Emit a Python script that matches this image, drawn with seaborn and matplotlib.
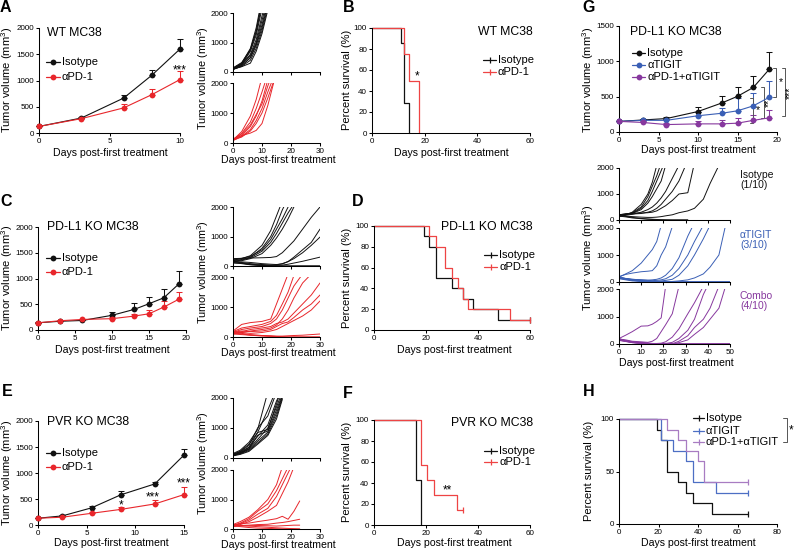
import numpy as np
import pandas as pd
import matplotlib
matplotlib.use("Agg")
import matplotlib.pyplot as plt
from matplotlib.lines import Line2D
import seaborn as sns

W, H = 794, 551

# ---- mean tumor growth ----
A_days = [0, 3, 6, 8, 10]
A_iso_mean = [125, 285, 665, 1100, 1600]
A_iso_sem = [10, 20, 60, 105, 190]
A_pd1_mean = [125, 273, 478, 730, 1018]
A_pd1_sem = [10, 20, 75, 105, 160]

C_days = [0, 3, 6, 10, 13, 15, 17, 19]
C_iso_mean = [140, 170, 185, 285, 400, 510, 625, 890]
C_iso_sem = [10, 12, 15, 65, 120, 130, 180, 260]
C_pd1_mean = [140, 180, 205, 220, 270, 315, 445, 595]
C_pd1_sem = [10, 12, 15, 30, 40, 65, 110, 140]

E_days = [0, 2.5, 5.5, 8.5, 12, 15]
E_iso_mean = [130, 175, 330, 580, 790, 1345]
E_iso_sem = [10, 15, 30, 75, 45, 115]
E_pd1_mean = [130, 150, 225, 300, 405, 585]
E_pd1_sem = [10, 15, 30, 55, 80, 155]

G_days = [0, 3, 6, 10, 13, 15, 17, 19]
G_iso_mean = [150, 170, 190, 290, 410, 505, 630, 885]
G_iso_sem = [10, 15, 20, 70, 95, 125, 165, 250]
G_tig_mean = [150, 165, 165, 230, 265, 300, 370, 490]
G_tig_sem = [10, 15, 20, 50, 80, 175, 180, 235]
G_cmb_mean = [150, 135, 105, 115, 115, 125, 165, 200]
G_cmb_sem = [10, 15, 20, 40, 60, 70, 80, 105]

# ---- individual mice ----
Asp_days = [0, 3, 6, 8, 10, 12, 14]
Asp_iso = [
    [90, 260, 750, 1350, 2300],
    [100, 270, 700, 1250, 2150],
    [120, 300, 800, 1500, 2500],
    [110, 250, 600, 1100, 1900, 2600],
    [130, 280, 560, 1000, 1750, 2500],
    [80, 210, 500, 950, 1600, 2400],
    [100, 220, 480, 900, 1500, 2300],
    [140, 320, 760, 1400, 2400],
    [90, 190, 400, 800, 1400, 2200],
    [100, 180, 300, 700, 1300, 2100],
]
Asp_pd1 = [
    [100, 380, 900, 1450, 2200],
    [120, 320, 700, 1150, 1700, 2300],
    [90, 250, 550, 900, 1400, 2100],
    [110, 300, 600, 950, 1300, 1900, 2400],
    [80, 220, 450, 750, 1150, 1700, 2200],
    [100, 200, 400, 650, 1000, 1500, 2050],
    [130, 250, 330, 420, 650, 1250, 2000],
]

Csp_days = [0, 3, 6, 10, 13, 15, 17, 19, 21, 24, 27, 30]
Csp_iso = [
    [200, 250, 350, 700, 1200, 1700, 2200],
    [180, 220, 300, 600, 1000, 1400, 1900, 2300],
    [220, 260, 330, 550, 900, 1250, 1600, 2000],
    [160, 200, 280, 500, 800, 1100, 1450, 1800, 2100],
    [150, 180, 250, 420, 700, 950, 1250, 1600, 2000],
    [250, 260, 270, 280, 290, 320, 450, 650, 850, 1250, 1650, 2000],
    [130, 140, 120, 80, 60, 50, 70, 150, 300, 550, 800, 1250],
    [100, 90, 60, 30, 20, 40, 80, 150, 250, 450, 700, 980],
    [150, 120, 80, 50, 30, 20, 30, 60, 100, 160, 230, 300],
    [120, 80, 40, 10, 0, 0, 0, 0, 0, 0, 0, 0],
    [180, 100, 50, 20, 5, 0, 0, 0, 0, 0, 0, 0],
]
Csp_pd1 = [
    [200, 420, 480, 520, 600, 1100, 1600, 2100],
    [180, 300, 350, 420, 520, 720, 1100, 1500, 2050],
    [150, 250, 300, 350, 450, 600, 900, 1300, 1700, 2100],
    [100, 150, 200, 250, 300, 400, 600, 900, 1300, 1800, 2100],
    [120, 180, 250, 300, 350, 450, 500, 600, 800, 1100, 1400, 1800],
    [150, 200, 180, 200, 250, 350, 450, 500, 650, 900, 1100, 1400],
    [130, 150, 120, 150, 200, 250, 350, 450, 550, 700, 900, 1200],
    [100, 80, 60, 50, 40, 30, 30, 40, 50, 60, 80, 100],
    [150, 100, 60, 30, 20, 10, 0, 0, 0, 0, 0, 0],
    [200, 120, 80, 50, 30, 20, 10, 0, 0, 0, 0, 0],
]

Esp_days = [0, 2.5, 5.5, 8.5, 12, 15, 17, 19, 21, 23]
Esp_iso = [
    [150, 260, 520, 950, 2200],
    [120, 230, 460, 850, 1600, 2300],
    [100, 210, 420, 1000, 1400, 2200],
    [130, 200, 360, 720, 1100, 1900, 2300],
    [100, 180, 310, 620, 1000, 1700, 2200],
    [80, 150, 300, 760, 900, 1600, 2100],
    [110, 170, 280, 560, 860, 1500, 2050],
    [90, 140, 250, 500, 800, 1400, 2000],
    [100, 160, 350, 850, 950, 1800, 2400],
    [70, 120, 220, 460, 750, 1300, 1950],
]
Esp_pd1 = [
    [150, 250, 400, 650, 1000, 1500, 2100],
    [120, 200, 350, 600, 850, 1300, 1700, 2100],
    [100, 180, 300, 500, 700, 1100, 1500, 1900, 2300],
    [80, 150, 250, 400, 600, 800, 1200, 1600, 2100],
    [130, 180, 200, 250, 300, 350, 430, 330, 600, 950],
    [100, 120, 130, 150, 160, 200, 220, 250, 290, 330],
    [90, 100, 110, 120, 110, 100, 110, 120, 130, 130],
    [150, 120, 100, 80, 60, 40, 30, 20, 10, 0],
    [120, 80, 50, 30, 20, 10, 0, 0, 0, 0],
]

Gsp_days = [0, 3, 6, 10, 13, 15, 17, 19, 21, 24, 27, 31, 34, 38, 41, 45, 48, 50]
Gsp_iso = [
    [150, 200, 300, 600, 1000, 1450, 2100],
    [180, 220, 280, 500, 900, 1300, 1700, 2200],
    [200, 230, 260, 450, 750, 1100, 1500, 1900, 2300],
    [160, 210, 250, 400, 650, 900, 1200, 1500, 2100],
    [140, 180, 220, 300, 400, 500, 650, 850, 1100, 1600, 2100],
    [200, 240, 230, 250, 300, 350, 450, 600, 800, 1100, 1500, 2300],
    [170, 220, 260, 270, 280, 300, 350, 450, 550, 750, 1000, 1050, 2200],
    [170, 150, 130, 110, 100, 100, 110, 130, 160, 200, 280, 350, 450, 800, 1400, 2100],
    [150, 120, 80, 50, 30, 20, 10, 5, 0, 0, 0, 0],
    [180, 140, 100, 60, 40, 30, 20, 10, 5, 0, 0, 0],
]
Gsp_tig = [
    [180, 300, 420, 700, 1000, 1200, 1500, 2100],
    [200, 280, 330, 380, 400, 420, 600, 1000, 1300, 2050],
    [150, 120, 100, 80, 70, 80, 100, 150, 250, 500, 900, 1700, 2200],
    [170, 130, 100, 80, 60, 50, 60, 80, 120, 250, 500, 1000, 1500, 2100],
    [160, 120, 90, 60, 40, 30, 30, 40, 60, 100, 250, 600, 1000, 1600, 2100],
    [140, 110, 80, 50, 30, 20, 10, 10, 10, 20, 40, 80, 150, 300, 550, 1000, 2100],
    [150, 100, 60, 30, 10, 0, 0, 0, 0, 0, 0, 0, 0, 0, 0, 0, 0, 0],
    [200, 130, 80, 40, 20, 10, 0, 0, 0, 0, 0, 0, 0, 0, 0, 0, 0, 0],
    [120, 80, 40, 20, 0, 0, 0, 0, 0, 0, 0, 0, 0, 0, 0, 0, 0, 0],
    [170, 110, 70, 30, 10, 0, 0, 0, 0, 0, 0, 0, 0, 0, 0, 0, 0, 0],
]
Gsp_cmb = [
    [200, 320, 450, 650, 660, 720, 820, 950, 2100],
    [180, 150, 100, 80, 60, 100, 200, 450, 700, 1100, 2100],
    [150, 120, 80, 50, 30, 20, 20, 30, 80, 250, 550, 1100, 1500, 2100],
    [160, 120, 80, 50, 30, 20, 10, 10, 20, 60, 200, 500, 900, 1800, 2300],
    [140, 100, 60, 30, 10, 5, 0, 0, 0, 10, 100, 300, 600, 900, 1300, 2100],
    [170, 120, 70, 40, 20, 10, 0, 0, 0, 0, 50, 150, 350, 600, 900, 1300, 2100],
    [200, 120, 70, 30, 10, 0, 0, 0, 0, 0, 0, 0, 0, 0, 0, 0, 0, 0],
    [150, 100, 50, 20, 0, 0, 0, 0, 0, 0, 0, 0, 0, 0, 0, 0, 0, 0],
    [180, 110, 60, 30, 10, 0, 0, 0, 0, 0, 0, 0, 0, 0, 0, 0, 0, 0],
    [130, 90, 50, 20, 0, 0, 0, 0, 0, 0, 0, 0, 0, 0, 0, 0, 0, 0],
]

# ---- survival (Kaplan-Meier steps) ----
B_iso_t = [0, 11, 12, 14]
B_iso_s = [100, 85.7, 28.6, 0]
B_pd1_t = [0, 12, 14, 18]
B_pd1_s = [100, 75, 50, 0]

D_iso_t = [0, 19.3, 21.2, 23.8, 30, 34.3, 38.2, 47.6, 60]
D_iso_s = [100, 90, 80, 50, 40, 30, 20, 10, 10]
D_pd1_t = [0, 21.2, 23.8, 27.2, 30, 32.4, 34.3, 36.2, 52.3, 60]
D_pd1_s = [100, 90, 80, 60, 50, 40, 30, 20, 10, 10]

F_iso_t = [0, 16, 18]
F_iso_s = [100, 42.9, 0]
F_pd1_t = [0, 18, 20.2, 23.1, 32.1, 34.3]
F_pd1_s = [100, 57.1, 42.9, 28.6, 14.3, 14.3]

H_iso_t = [0, 19.1, 21.1, 24.2, 29.8, 34, 37.7, 47, 65.3]
H_iso_s = [100, 90, 80, 50, 40, 30, 20, 10, 10]
H_tig_t = [0, 21.1, 27.2, 34, 37.7, 49.2, 65.3]
H_tig_s = [100, 80, 70, 60, 40, 30, 30]
H_cmb_t = [0, 24.2, 29.8, 34, 40, 43.1, 65.3]
H_cmb_s = [100, 90, 80, 70, 60, 40, 40]

BLACK = "#111111"
RED = "#e8262b"
RED_KM = "#ee4444"
BLUE = "#3a5fb5"
PURPLE = "#87389e"
BLUE_KM = "#4d6fc4"
PURPLE_KM = "#a87cc2"

sns.set_style("ticks", {"axes.edgecolor": "black", "xtick.color": "black",
                        "ytick.color": "black", "text.color": "black",
                        "axes.labelcolor": "black"})
plt.rcParams['font.family'] = ['Liberation Sans', 'DejaVu Sans']
plt.rcParams['mathtext.default'] = 'regular'

fig = plt.figure(figsize=(W / 100, H / 100), dpi=100)


def add_ax(x0, y0, x1, y1):
    return fig.add_axes([x0 / W, 1 - y1 / H, (x1 - x0) / W, (y1 - y0) / H])


def ftext(x, y, s, **kw):
    kw.setdefault("va", "center")
    fig.text(x / W, 1 - y / H, s, **kw)


def style(ax, xlim, ylim, xticks, yticks, xlabels=True):
    ax.set_xlim(*xlim)
    ax.set_ylim(*ylim)
    ax.set_xticks(xticks)
    ax.set_yticks(yticks)
    if not xlabels:
        ax.set_xticklabels([])
    ax.set_xlabel("")
    ax.set_ylabel("")
    sns.despine(ax=ax)
    ax.tick_params(labelsize=5.8, length=2.5, width=0.75, pad=1)
    for s in ("left", "bottom"):
        ax.spines[s].set_linewidth(0.75)
    ax.patch.set_alpha(0)


def growth(ax, days, series):
    rows = []
    for name, mean, sem, color in series:
        ax.errorbar(days, mean, yerr=[np.zeros(len(sem)), sem], fmt="none",
                    ecolor=color, elinewidth=0.75, capsize=2, capthick=0.75,
                    clip_on=False, zorder=2)
        rows += [(name, d, m) for d, m in zip(days, mean)]
    df = pd.DataFrame(rows, columns=["group", "day", "vol"])
    sns.lineplot(data=df, x="day", y="vol", hue="group",
                 hue_order=[s[0] for s in series],
                 palette={s[0]: s[3] for s in series}, marker="o",
                 markersize=4.2, markeredgewidth=0, linewidth=0.8,
                 legend=False, ax=ax, clip_on=False, zorder=3)


def spaghetti(ax, days, mice, color):
    rows = [(i, days[j], v) for i, m in enumerate(mice) for j, v in enumerate(m)]
    df = pd.DataFrame(rows, columns=["mouse", "day", "vol"])
    sns.lineplot(data=df, x="day", y="vol", units="mouse", estimator=None,
                 color=color, linewidth=0.7, legend=False, ax=ax)


def survival(ax, curves):
    rows = []
    for name, t, s, color in curves:
        rows += [(name, a, b) for a, b in zip(t, s)]
    df = pd.DataFrame(rows, columns=["group", "t", "s"])
    sns.lineplot(data=df, x="t", y="s", hue="group",
                 hue_order=[c[0] for c in curves],
                 palette={c[0]: c[3] for c in curves}, estimator=None,
                 drawstyle="steps-post", linewidth=0.9, legend=False, ax=ax,
                 clip_on=False)
    for name, t, s, color in curves:
        if s[-1] > 0:
            ax.plot(t[-1], s[-1], marker="|", color=color, markersize=4,
                    markeredgewidth=0.9, clip_on=False)


def legend_entry(x0, x1, y, color, label, km=False):
    fig.add_artist(Line2D([x0 / W, x1 / W], [1 - y / H] * 2,
                          transform=fig.transFigure, color=color, lw=0.9))
    fig.add_artist(Line2D([(x0 + x1) / 2 / W], [1 - y / H],
                          transform=fig.transFigure, color=color,
                          marker="|" if km else "o",
                          markersize=4 if km else 4.2,
                          markeredgewidth=0.9 if km else 0, linestyle="none"))
    ftext(x1 + 2, y, label, fontsize=8, ha="left")


TV = "Tumor volume (mm$^3$)"
PS = "Percent survival (%)"
XL = "Days post-first treatment"

# ---------------- A ----------------
ax = add_ax(39, 28, 180, 133)
growth(ax, A_days, [("Isotype", A_iso_mean, A_iso_sem, BLACK),
                    ("αPD-1", A_pd1_mean, A_pd1_sem, RED)])
style(ax, (0, 10), (0, 2000), [0, 5, 10], [0, 500, 1000, 1500, 2000])
ftext(47, 33, "WT MC38", fontsize=8.8, ha="left")
legend_entry(46, 60, 62, BLACK, "Isotype")
legend_entry(46, 60, 77, RED, "αPD-1")
ftext(180, 70, "***", fontsize=8.5, ha="center")
ftext(7, 80, TV, fontsize=8, rotation=90, ha="center")
ftext(110, 153, XL, fontsize=7.6, ha="center")

ax = add_ax(233, 13, 320, 72)
spaghetti(ax, Asp_days, Asp_iso, BLACK)
style(ax, (0, 30), (0, 2000), [0, 10, 20, 30], [0, 1000, 2000], xlabels=False)
ax = add_ax(233, 83, 320, 143)
spaghetti(ax, Asp_days, Asp_pd1, RED)
style(ax, (0, 30), (0, 2000), [0, 10, 20, 30], [0, 1000, 2000])
ftext(203, 78, TV, fontsize=7.8, rotation=90, ha="center")
ftext(278, 160, XL, fontsize=7.6, ha="center")

# ---------------- B ----------------
ax = add_ax(372, 28, 530, 133)
survival(ax, [("Isotype", B_iso_t, B_iso_s, BLACK),
              ("αPD-1", B_pd1_t, B_pd1_s, RED_KM)])
style(ax, (0, 60), (0, 100), [0, 20, 40, 60], [0, 20, 40, 60, 80, 100])
ftext(533, 32, "WT MC38", fontsize=8.8, ha="right")
legend_entry(483, 496, 60, BLACK, "Isotype", km=True)
legend_entry(483, 496, 72, RED_KM, "αPD-1", km=True)
ftext(417, 76, "*", fontsize=8.5, ha="center")
ftext(347, 80, PS, fontsize=8, rotation=90, ha="center")
ftext(451, 153, XL, fontsize=7.6, ha="center")

# ---------------- C ----------------
ax = add_ax(38, 227, 186, 330)
growth(ax, C_days, [("Isotype", C_iso_mean, C_iso_sem, BLACK),
                    ("αPD-1", C_pd1_mean, C_pd1_sem, RED)])
style(ax, (0, 20), (0, 2000), [0, 5, 10, 15, 20], [0, 500, 1000, 1500, 2000])
ftext(47, 227, "PD-L1 KO MC38", fontsize=8.8, ha="left")
legend_entry(46, 60, 258, BLACK, "Isotype")
legend_entry(46, 60, 272, RED, "αPD-1")
ftext(7, 278, TV, fontsize=8, rotation=90, ha="center")
ftext(112, 350, XL, fontsize=7.6, ha="center")

ax = add_ax(233, 207, 320, 266)
spaghetti(ax, Csp_days, Csp_iso, BLACK)
style(ax, (0, 30), (0, 2000), [0, 10, 20, 30], [0, 1000, 2000], xlabels=False)
ax = add_ax(233, 277, 320, 337)
spaghetti(ax, Csp_days, Csp_pd1, RED)
style(ax, (0, 30), (0, 2000), [0, 10, 20, 30], [0, 1000, 2000])
ftext(203, 272, TV, fontsize=7.8, rotation=90, ha="center")
ftext(278, 353, XL, fontsize=7.6, ha="center")

# ---------------- D ----------------
ax = add_ax(374, 226, 530, 330)
survival(ax, [("Isotype", D_iso_t, D_iso_s, BLACK),
              ("αPD-1", D_pd1_t, D_pd1_s, RED_KM)])
style(ax, (0, 60), (0, 100), [0, 20, 40, 60], [0, 20, 40, 60, 80, 100])
ftext(533, 227, "PD-L1 KO MC38", fontsize=8.8, ha="right")
legend_entry(484, 497, 255, BLACK, "Isotype", km=True)
legend_entry(484, 497, 267, RED_KM, "αPD-1", km=True)
ftext(347, 278, PS, fontsize=8, rotation=90, ha="center")
ftext(454, 350, XL, fontsize=7.6, ha="center")

# ---------------- E ----------------
ax = add_ax(38, 421, 184, 525)
growth(ax, E_days, [("Isotype", E_iso_mean, E_iso_sem, BLACK),
                    ("αPD-1", E_pd1_mean, E_pd1_sem, RED)])
style(ax, (0, 15), (0, 2000), [0, 5, 10, 15], [0, 500, 1000, 1500, 2000])
ftext(47, 422, "PVR KO MC38", fontsize=8.8, ha="left")
legend_entry(46, 60, 453, BLACK, "Isotype")
legend_entry(46, 60, 467, RED, "αPD-1")
ftext(121, 505, "*", fontsize=8.5, ha="center")
ftext(153, 497, "***", fontsize=8.5, ha="center")
ftext(184, 483, "***", fontsize=8.5, ha="center")
ftext(7, 473, TV, fontsize=8, rotation=90, ha="center")
ftext(111, 543, XL, fontsize=7.6, ha="center")

ax = add_ax(233, 398, 320, 458)
spaghetti(ax, Esp_days, Esp_iso, BLACK)
style(ax, (0, 30), (0, 2000), [0, 10, 20, 30], [0, 1000, 2000], xlabels=False)
ax = add_ax(233, 470, 320, 529)
spaghetti(ax, Esp_days, Esp_pd1, RED)
style(ax, (0, 30), (0, 2000), [0, 10, 20, 30], [0, 1000, 2000])
ftext(203, 463, TV, fontsize=7.8, rotation=90, ha="center")
ftext(278, 545, XL, fontsize=7.6, ha="center")

# ---------------- F ----------------
ax = add_ax(374, 420, 530, 525)
survival(ax, [("Isotype", F_iso_t, F_iso_s, BLACK),
              ("αPD-1", F_pd1_t, F_pd1_s, RED_KM)])
style(ax, (0, 60), (0, 100), [0, 20, 40, 60], [0, 20, 40, 60, 80, 100])
ftext(533, 423, "PVR KO MC38", fontsize=8.8, ha="right")
legend_entry(484, 497, 451, BLACK, "Isotype", km=True)
legend_entry(484, 497, 462, RED_KM, "αPD-1", km=True)
ftext(447, 490, "**", fontsize=8.5, ha="center")
ftext(347, 472, PS, fontsize=8, rotation=90, ha="center")
ftext(454, 543, XL, fontsize=7.6, ha="center")

# ---------------- G ----------------
ax = add_ax(619, 26, 777, 132)
growth(ax, G_days, [("Isotype", G_iso_mean, G_iso_sem, BLACK),
                    ("αTIGIT", G_tig_mean, G_tig_sem, BLUE),
                    ("αPD-1+αTIGIT", G_cmb_mean, G_cmb_sem, PURPLE)])
style(ax, (0, 20), (0, 1500), [0, 5, 10, 15, 20], [0, 500, 1000, 1500])
# significance brackets: (x, y_top, y_bottom, stars)
for xb, yt, yb, st in [(17.0, 480, 127, "*"), (18.4, 633, 197, "**"),
                       (19.9, 900, 500, "*"), (21.0, 900, 220, "***")]:
    ax.plot([xb - 0.4, xb, xb, xb - 0.4], [yt, yt, yb, yb], color="#555555",
            lw=0.7, clip_on=False)
    ax.text(xb + 0.6, (yt + yb) / 2, st, fontsize=7.5, rotation=90 if len(st) > 1 else 0,
            ha="center", va="center")
ftext(630, 32, "PD-L1 KO MC38", fontsize=8.8, ha="left")
legend_entry(632, 645, 53, BLACK, "Isotype")
legend_entry(632, 645, 65, BLUE, "αTIGIT")
legend_entry(632, 645, 77, PURPLE, "αPD-1+αTIGIT")
ftext(588, 80, TV, fontsize=8, rotation=90, ha="center")
ftext(698, 150, XL, fontsize=7.6, ha="center")

for (y0, y1), mice, color, lab in [((168, 220), Gsp_iso, BLACK, "Isotype\n(1/10)"),
                                   ((228, 282), Gsp_tig, BLUE, "αTIGIT\n(3/10)"),
                                   ((289, 344), Gsp_cmb, PURPLE, "Combo\n(4/10)")]:
    ax = add_ax(619, y0, 730, y1)
    spaghetti(ax, Gsp_days, mice, color)
    style(ax, (0, 50), (0, 2000), [0, 10, 20, 30, 40, 50], [0, 1000, 2000],
          xlabels=(y1 == 344))
    ftext(740, y0 + 12, lab, fontsize=7.5, ha="left", color=color,
          linespacing=1.05)
ftext(588, 258, TV, fontsize=8, rotation=90, ha="center")
ftext(676, 363, XL, fontsize=7.6, ha="center")

# ---------------- H ----------------
ax = add_ax(619, 419, 777, 524)
survival(ax, [("Isotype", H_iso_t, H_iso_s, BLACK),
              ("αTIGIT", H_tig_t, H_tig_s, BLUE_KM),
              ("αPD-1+αTIGIT", H_cmb_t, H_cmb_s, PURPLE_KM)])
style(ax, (0, 80), (0, 100), [0, 20, 40, 60, 80], [0, 50, 100])
legend_entry(693, 704, 418, BLACK, "Isotype", km=True)
legend_entry(693, 704, 431, BLUE_KM, "αTIGIT", km=True)
legend_entry(693, 704, 442, PURPLE_KM, "αPD-1+αTIGIT", km=True)
fig.add_artist(Line2D([783 / W, 787 / W, 787 / W, 783 / W],
                      [1 - 418 / H, 1 - 418 / H, 1 - 442 / H, 1 - 442 / H],
                      transform=fig.transFigure, color="#555555", lw=0.7))
ftext(791, 430, "*", fontsize=8.5, ha="center")
ftext(589, 471, PS, fontsize=8, rotation=90, ha="center")
ftext(698, 543, XL, fontsize=7.6, ha="center")

# panel letters
for x, y, s in [(0, 8, "A"), (343, 8, "B"), (0, 201, "C"), (352, 201, "D"),
                (2, 392, "E"), (343, 394, "F"), (582, 8, "G"), (583, 392, "H")]:
    ftext(x, y, s, fontsize=11.5, fontweight="bold", ha="left")

fig.savefig("out.png", dpi=100)
